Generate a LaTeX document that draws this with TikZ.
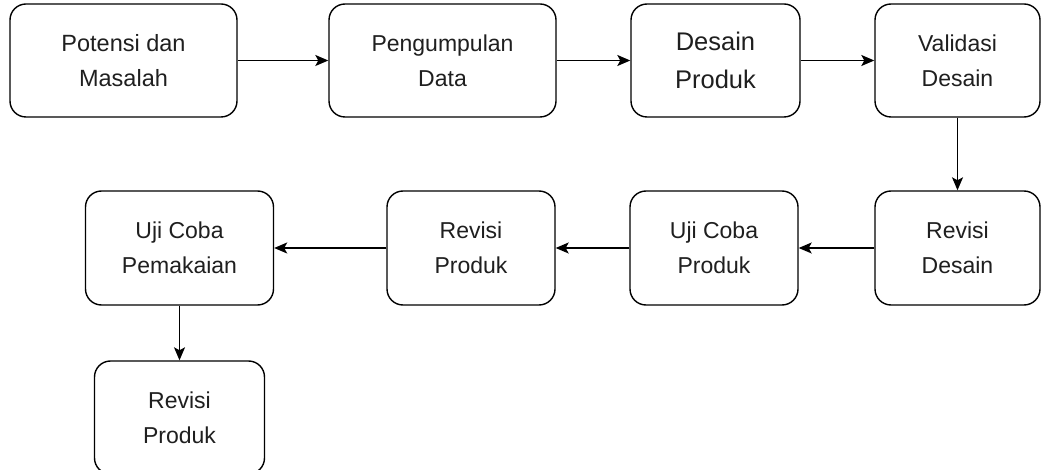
\documentclass[tikz,border=0pt]{standalone}
\usepackage{fontspec}
\setmainfont{Liberation Sans}
\usetikzlibrary{arrows.meta}
\begin{document}
\begin{tikzpicture}[x=1pt,y=-1pt,
  stepbox/.style={draw=black, line width=1.4pt, rounded corners=16pt,
    fill=white, align=center, inner sep=0pt, text=black!88,
    font=\fontsize{23}{35}\selectfont},
  flow/.style={draw=black, line width=1.4pt,
    -{Stealth[length=13pt,width=11pt,inset=3pt]}}
]
\path[use as bounding box, clip] (0,0) rectangle (1042,470);

% top row
\node[stepbox, minimum width=227pt, minimum height=113pt,
      font=\fontsize{23.5}{35}\selectfont] (pot) at (123.5,60.5) {Potensi dan\\Masalah};
\node[stepbox, minimum width=227pt, minimum height=113pt] (data) at (442.5,60.5) {Pengumpulan\\Data};
\node[stepbox, minimum width=169pt, minimum height=113pt,
      font=\fontsize{25.5}{38}\selectfont] (des) at (715.5,60.5) {Desain\\Produk};
\node[stepbox, minimum width=165pt, minimum height=113pt] (val) at (957.5,60.5) {Validasi\\Desain};

% second row
\node[stepbox, minimum width=165pt, minimum height=114pt] (revdes) at (957.5,248) {Revisi\\Desain};
\node[stepbox, minimum width=168pt, minimum height=114pt] (ujiprod) at (714,248) {Uji Coba\\Produk};
\node[stepbox, minimum width=168pt, minimum height=114pt] (revprod) at (471,248) {Revisi\\Produk};
\node[stepbox, minimum width=188pt, minimum height=114pt] (ujipem) at (179.5,248) {Uji Coba\\Pemakaian};

% last step
\node[stepbox, minimum width=170pt, minimum height=113pt] (revakhir) at (179.5,417.5) {Revisi\\Produk};

% connectors
\draw[flow] (pot) -- (data);
\draw[flow] (data) -- (des);
\draw[flow] (des) -- (val);
\draw[flow] (val) -- (revdes);
\draw[flow] (revdes) -- (ujiprod);
\draw[flow] (ujiprod) -- (revprod);
\draw[flow] (revprod) -- (ujipem);
\draw[flow] (ujipem) -- (revakhir);
\end{tikzpicture}
\end{document}
